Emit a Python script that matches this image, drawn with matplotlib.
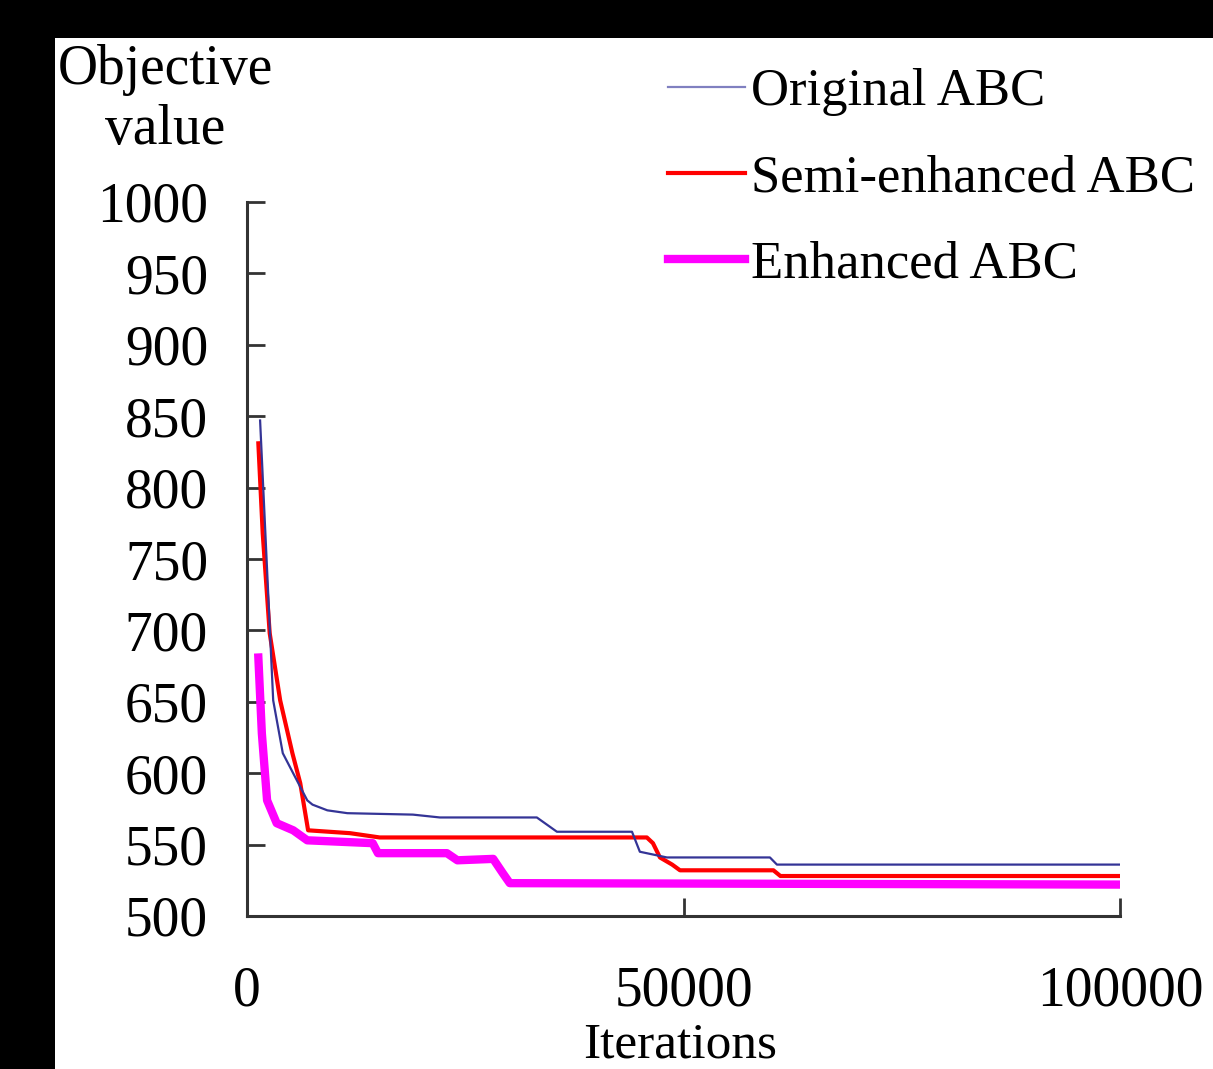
import matplotlib.pyplot as plt
from matplotlib.patches import Rectangle

# values (iterations, objective value)
orig_x = [1500, 3000, 4100, 6900, 7500, 9200, 11500, 19000, 22100, 33200, 35500,
          44100, 45000, 48100, 59900, 60700, 100000]
orig_y = [847, 651, 614, 581, 578, 574, 572, 571, 569, 569, 559,
          559, 545, 541, 541, 536, 536]

semi_x = [1300, 1800, 2600, 3800, 5200, 6100, 7000, 11800, 15200, 45800, 46500,
          47300, 48700, 49600, 60300, 61100, 100000]
semi_y = [831, 768, 698, 651, 614, 593, 560, 558, 555, 555, 551,
          541, 536, 532, 532, 528, 528]

enh_x = [1300, 1700, 2300, 3400, 5300, 6900, 14400, 15000, 22900, 24100, 28200,
         29300, 30100, 100000]
enh_y = [681, 628, 581, 565, 560, 553, 551, 544, 544, 539, 540,
         530, 523, 522]

labels = ["Original ABC", "Semi-enhanced ABC", "Enhanced ABC"]

plt.rcParams['font.family'] = ['Liberation Serif', 'DejaVu Serif']
fs = 40

W, H = 1213, 1069
fig = plt.figure(figsize=(W / 100, H / 100), dpi=100, facecolor='black')
fig.add_artist(Rectangle((55 / W, 0), 1 - 55 / W, 1 - 38 / H, transform=fig.transFigure,
                         facecolor='white', edgecolor='none', zorder=-10))

ax = fig.add_axes([247 / W, 1 - 916 / H, (1120 - 247) / W, (916 - 202) / H])
ax.set_facecolor('none')

ax.plot(orig_x, orig_y, color='#343496', lw=1.6, label=labels[0], zorder=4)
ax.plot(semi_x, semi_y, color='#ff0000', lw=3.0, label=labels[1], zorder=3)
ax.plot(enh_x, enh_y, color='#ff00ff', lw=6.0, label=labels[2], zorder=2)

ax.set_xlim(0, 100000)
ax.set_ylim(500, 1000)
ax.set_xticks([0, 50000, 100000])
ax.set_yticks(range(500, 1001, 50))
ax.tick_params(axis='both', direction='in', length=13, width=2, color='#333333',
               labelsize=fs)
ax.tick_params(axis='x', pad=36)
ax.tick_params(axis='y', pad=28)
for s in ['top', 'right']:
    ax.spines[s].set_visible(False)
for s in ['left', 'bottom']:
    ax.spines[s].set_linewidth(2.2)
    ax.spines[s].set_color('#333333')

leg = ax.legend(loc='upper left', bbox_to_anchor=(668 / W, 1 - 68 / H),
                bbox_transform=fig.transFigure, frameon=False, fontsize=38,
                handlelength=1.45, handletextpad=0.12, labelspacing=0.72,
                borderaxespad=0, borderpad=0)
leg.get_lines()[0].set_color('#8080c0')

fig.text(165 / W, 1 - 100 / H, "Objective\nvalue", ha='center', va='center',
         fontsize=fs, linespacing=1.2)
fig.text(680 / W, 1 / H, "Iterations", ha='center', va='bottom', fontsize=37)

fig.savefig('out.png', dpi=100, facecolor=fig.get_facecolor())
